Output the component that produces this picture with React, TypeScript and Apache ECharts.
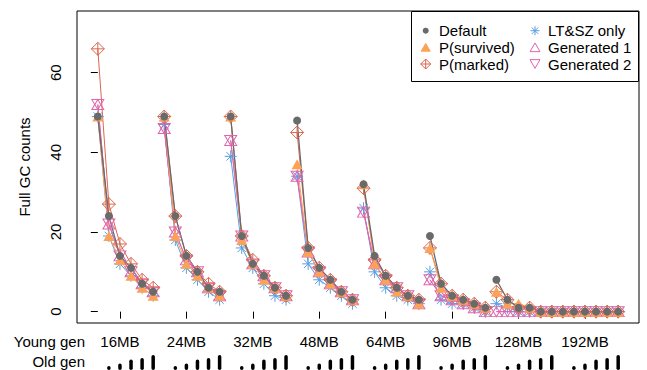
import React, { useEffect, useRef } from "react";
import * as echarts from "echarts";

// ---------- data ----------
const youngGenLabels = ["16MB", "24MB", "32MB", "48MB", "64MB", "96MB", "128MB", "192MB"];
const pointsPerGroup = 6;
// relative old-gen size marker for each of the 6 configurations in a group
const oldGenBars = [0, 4, 6.5, 10.5, 12, 15];
const yTicks = [0, 20, 40, 60];
const legendNames = ["Default", "P(survived)", "P(marked)", "LT&SZ only", "Generated 1", "Generated 2"];

const defaultCounts = [
  49, 24, 14, 11, 7, 5,
  49, 24, 14, 10, 6, 5,
  49, 19, 12, 9, 6, 4,
  48, 16, 11, 8, 5, 3,
  32, 14, 9, 6, 4, 3,
  19, 7, 4, 3, 2, 1,
  8, 3, 1, 1, 0, 0,
  0, 0, 0, 0, 0, 0,
];
const pSurvivedCounts = [
  49, 19, 13, 9, 6, 4,
  49, 19, 12, 9, 6, 4,
  49, 18, 12, 8, 6, 4,
  37, 15, 10, 7, 5, 3,
  32, 12, 8, 5, 4, 2,
  16, 6, 4, 3, 2, 1,
  5, 2, 2, 1, 0, 0,
  0, 0, 0, 0, 0, 0,
];
const pMarkedCounts = [
  66, 27, 17, 12, 8, 6,
  49, 24, 14, 10, 7, 5,
  49, 19, 13, 9, 6, 4,
  45, 16, 11, 8, 5, 3,
  31, 13, 9, 6, 4, 3,
  16, 7, 4, 3, 2, 1,
  5, 3, 1, 1, 0, 0,
  0, 0, 0, 0, 0, 0,
];
const ltszCounts = [
  49, 19, 12, 9, 6, 4,
  47, 18, 11, 8, 5, 3,
  39, 16, 11, 7, 4, 3,
  34, 12, 8, 6, 4, 2,
  26, 10, 6, 4, 3, 2,
  10, 3, 2, 2, 1, 0,
  2, 1, 0, 0, 0, 0,
  0, 0, 0, 0, 0, 0,
];
const generated1Counts = [
  52, 22, 14, 10, 7, 5,
  46, 20, 13, 10, 6, 4,
  43, 19, 12, 9, 6, 4,
  34, 15, 10, 7, 5, 3,
  25, 12, 8, 6, 4, 2,
  8, 4, 3, 2, 1, 0,
  0, 0, 0, 0, 0, 0,
  0, 0, 0, 0, 0, 0,
];
const generated2Counts = [
  52, 22, 14, 10, 7, 5,
  46, 20, 13, 10, 6, 4,
  43, 19, 12, 9, 6, 4,
  34, 15, 10, 7, 5, 3,
  25, 12, 8, 6, 4, 2,
  8, 4, 3, 2, 1, 0,
  0, 0, 0, 0, 0, 0,
  0, 0, 0, 0, 0, 0,
];

// ---------- styling ----------
const FONT = "'Liberation Sans', Arial, Helvetica, sans-serif";
const C_GREY = "#6a6a6a";
const C_ORANGE = "#fba257";
const C_RED = "#d9674f";
const C_BLUE = "#5a9fdf";
const C_PINK = "#e064ae";

const DIAMOND_PLUS = "path://M0,-1L1,0L0,1L-1,0ZM0,-1L0,1M-1,0L1,0";
const ASTERISK = "path://M0,-1L0,1M-1,0L1,0M-0.7,-0.7L0.7,0.7M-0.7,0.7L0.7,-0.7";

const totalPoints = youngGenLabels.length * pointsPerGroup;
const pad = (totalPoints - 1) * 0.04;

function toSeriesData(values: number[]) {
  const out: any[] = [];
  values.forEach((v, i) => {
    out.push([i, v]);
    if ((i + 1) % pointsPerGroup === 0 && i < values.length - 1) out.push([i + 0.5, "-"]);
  });
  return out;
}

function lineSeries(name: string, values: number[], color: string, opts: any) {
  return {
    type: "line",
    name,
    xAxisIndex: 0,
    yAxisIndex: 0,
    data: toSeriesData(values),
    lineStyle: { color, width: opts.lineWidth || 1 },
    symbol: opts.symbol,
    symbolSize: opts.symbolSize,
    symbolRotate: opts.symbolRotate || 0,
    itemStyle: opts.outline
      ? { color: "none", borderColor: color, borderWidth: 1 }
      : { color, borderWidth: 0 },
    emphasis: { disabled: true },
    connectNulls: false,
  };
}

export default function App() {
  const ref = useRef<HTMLDivElement>(null);
  useEffect(() => {
    if (!ref.current) return;
    const chart = echarts.init(ref.current, undefined, { renderer: "svg" });

    const tickPositions = youngGenLabels.map((_, g) => g * pointsPerGroup + 2);
    const barData: any[] = [];
    for (let i = 0; i < totalPoints; i++) barData.push([i, oldGenBars[i % pointsPerGroup]]);

    // legend layout
    const rows = [30.7, 47.3, 64];
    const c1s = 425.7, c1t = 439, c2s = 535, c2t = 548;
    const Z = 20;
    const legendText = (x: number, y: number, t: string) => ({
      type: "text", x, y, z: Z,
      style: { text: t, fill: "#000", font: `15px ${FONT}`, textAlign: "left", textVerticalAlign: "middle" },
    });
    const tri = (cx: number, cy: number, s: number, down: boolean, fill: string, stroke: string) => {
      const h = s * 0.87;
      const pts = down
        ? [[cx - s / 2, cy - h / 2], [cx + s / 2, cy - h / 2], [cx, cy + h / 2]]
        : [[cx - s / 2, cy + h / 2], [cx + s / 2, cy + h / 2], [cx, cy - h / 2]];
      return { type: "polygon", z: Z, shape: { points: pts }, style: { fill, stroke, lineWidth: 1 } };
    };
    const r = 4.5;
    const ast = (cx: number, cy: number) => {
      const d = r * 0.7;
      return [
        [cx, cy - r, cx, cy + r], [cx - r, cy, cx + r, cy],
        [cx - d, cy - d, cx + d, cy + d], [cx - d, cy + d, cx + d, cy - d],
      ].map((l) => ({ type: "line", z: Z, shape: { x1: l[0], y1: l[1], x2: l[2], y2: l[3] }, style: { stroke: C_BLUE, lineWidth: 1 } }));
    };

    const graphic: any[] = [
      { type: "rect", z: 10, shape: { x: 411.5, y: 11.5, width: 227, height: 70 }, style: { fill: "#fff", stroke: "#000", lineWidth: 1 } },
      { type: "circle", z: Z, shape: { cx: c1s, cy: rows[0], r: 3 }, style: { fill: C_GREY } },
      tri(c1s, rows[1], 9, false, C_ORANGE, C_ORANGE),
      { type: "polygon", z: Z, shape: { points: [[c1s, rows[2] - 5], [c1s + 5, rows[2]], [c1s, rows[2] + 5], [c1s - 5, rows[2]]] }, style: { fill: "none", stroke: C_RED, lineWidth: 1 } },
      { type: "line", z: Z, shape: { x1: c1s, y1: rows[2] - 5, x2: c1s, y2: rows[2] + 5 }, style: { stroke: C_RED, lineWidth: 1 } },
      { type: "line", z: Z, shape: { x1: c1s - 5, y1: rows[2], x2: c1s + 5, y2: rows[2] }, style: { stroke: C_RED, lineWidth: 1 } },
      ...ast(c2s, rows[0]),
      tri(c2s, rows[1], 10, false, "none", C_PINK),
      tri(c2s, rows[2], 10, true, "none", C_PINK),
      legendText(c1t, rows[0], legendNames[0]),
      legendText(c1t, rows[1], legendNames[1]),
      legendText(c1t, rows[2], legendNames[2]),
      legendText(c2t, rows[0], legendNames[3]),
      legendText(c2t, rows[1], legendNames[4]),
      legendText(c2t, rows[2], legendNames[5]),
      { type: "text", x: 85, y: 341.7, style: { text: "Young gen", fill: "#000", font: `15px ${FONT}`, textAlign: "right", textVerticalAlign: "middle" } },
      { type: "text", x: 85, y: 361, style: { text: "Old gen", fill: "#000", font: `15px ${FONT}`, textAlign: "right", textVerticalAlign: "middle" } },
    ];

    chart.setOption({
      animation: false,
      backgroundColor: "#fff",
      textStyle: { fontFamily: FONT },
      grid: [
        { left: 77, top: 11, width: 562, height: 312, show: true, borderColor: "#000", borderWidth: 1, backgroundColor: "transparent", containLabel: false },
        { left: 77, top: 355, width: 562, height: 15, show: false, containLabel: false },
      ],
      xAxis: [
        {
          type: "value", gridIndex: 0, min: -pad, max: totalPoints - 1 + pad,
          axisLine: { show: false },
          splitLine: { show: false },
          axisTick: { show: true, inside: false, length: 7, customValues: tickPositions, lineStyle: { color: "#000", width: 1 } },
          axisLabel: {
            show: true, customValues: tickPositions, margin: 11, color: "#000", fontSize: 15, fontFamily: FONT,
            formatter: (v: number) => youngGenLabels[Math.round((v - 2) / pointsPerGroup)] ?? "",
          },
        },
        {
          type: "value", gridIndex: 1, min: -pad, max: totalPoints - 1 + pad, show: false,
          splitLine: { show: false },
        },
      ],
      yAxis: [
        {
          type: "value", gridIndex: 0, min: -2.85, max: 75.5,
          name: "Full GC counts", nameLocation: "middle", nameGap: 45, nameRotate: 90,
          nameTextStyle: { color: "#000", fontSize: 15, fontFamily: FONT },
          axisLine: { show: false },
          splitLine: { show: false },
          axisTick: { show: true, inside: false, length: 7, customValues: yTicks, lineStyle: { color: "#000", width: 1 } },
          axisLabel: { show: true, customValues: yTicks, rotate: 90, margin: 14, color: "#000", fontSize: 15, fontFamily: FONT },
        },
        { type: "value", gridIndex: 1, min: 0, max: 15, show: false, splitLine: { show: false } },
      ],
      series: [
        lineSeries(legendNames[3], ltszCounts, C_BLUE, { symbol: ASTERISK, symbolSize: 12, outline: true }),
        lineSeries(legendNames[4], generated1Counts, C_PINK, { symbol: "triangle", symbolSize: [12, 10], outline: true }),
        lineSeries(legendNames[5], generated2Counts, C_PINK, { symbol: "triangle", symbolSize: [12, 10], symbolRotate: 180, outline: true }),
        lineSeries(legendNames[2], pMarkedCounts, C_RED, { symbol: DIAMOND_PLUS, symbolSize: 13, outline: true }),
        lineSeries(legendNames[1], pSurvivedCounts, C_ORANGE, { symbol: "triangle", symbolSize: [11, 10] }),
        lineSeries(legendNames[0], defaultCounts, C_GREY, { symbol: "circle", symbolSize: 8, lineWidth: 1.3 }),
        {
          type: "bar", name: "Old gen", xAxisIndex: 1, yAxisIndex: 1, data: barData,
          barWidth: 3.5, itemStyle: { color: "#000", borderRadius: 1.75 }, emphasis: { disabled: true },
        },
      ],
      graphic,
    });
    return () => chart.dispose();
  }, []);
  return <div ref={ref} style={{ position: "fixed", left: 0, top: 0, width: 647, height: 370 }} />;
}
